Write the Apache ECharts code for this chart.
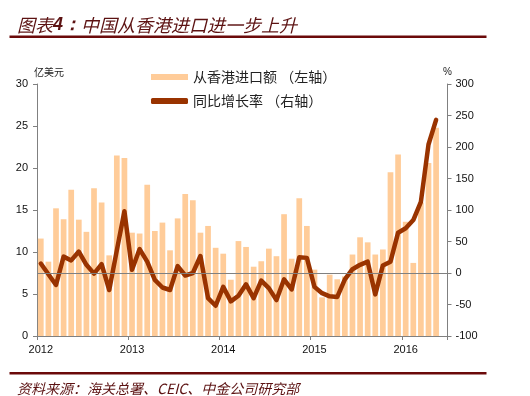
<!DOCTYPE html>
<html>
<head>
<meta charset="utf-8">
<script src="https://cdn.jsdelivr.net/npm/echarts@6/dist/echarts.min.js"></script>
<style>html,body{margin:0;padding:0;background:#fff}#c{width:530px;height:396px}</style>
</head>
<body>
<div id="c"></div>
<script>
// categories: monthly Jan 2012 - Jun 2016
const categories = [];
for (let y = 2012; y <= 2016; y++) {
  for (let m = 1; m <= 12; m++) {
    if (y === 2016 && m > 6) break;
    categories.push(y + '-' + (m < 10 ? '0' + m : m));
  }
}
const tickLabels = ['2012', '2013', '2014', '2015', '2016'];

// 从香港进口额 (亿美元)
const importValue = [
  11.6, 8.85, 15.2, 13.9, 17.4, 13.85, 12.4, 17.6, 15.9, 9.6, 21.5, 21.2,
  12.3, 12.2, 18.0, 12.5, 13.5, 10.2, 14.0, 16.9, 16.15, 12.3, 13.1, 10.5,
  9.8, 6.7, 11.3, 10.6, 8.25, 8.9, 10.4, 9.5, 14.5, 9.2, 16.4, 13.1,
  7.9, 4.6, 7.3, 6.75, 7.1, 9.7, 11.75, 11.15, 9.7, 10.3, 19.5, 21.6,
  13.6, 8.7, 15.9, 20.6, 24.8, null
];

// 同比增长率 (%)
const yoyGrowth = [
  15, -2, -19, 26, 20, 34, 13, -1, 14, -27, 36, 98,
  5, 38, 18, -11, -23, -27, 11, -4, 0, 27, -40, -52,
  -22, -45, -36, -18, -40, -12, -24, -43, -10, -26, 25, 24,
  -22, -32, -37, -38, -10, 6, 13, 18, -34, 12, 18, 64,
  71, 84, 113, 204, 243, null
];

const seriesNames = ['从香港进口额 （左轴）', '同比增长率 （右轴）'];

const chart = echarts.init(document.getElementById('c'), null, {renderer: 'canvas'});
const axisGray = '#808080';
const cjk = '"Noto Sans CJK SC", "Noto Sans", sans-serif';
const num = '"Liberation Sans", Arial, sans-serif';

chart.setOption({
  backgroundColor: '#fff',
  animation: false,
  title: [
    {
      left: 12, top: 11,
      text: '{a|图表}{b|4：}{a|中国从香港进口进一步上升}',
      textStyle: {
        fontWeight: 'normal',
        rich: {
          a: {fontFamily: cjk, fontSize: 18, fontStyle: 'italic', fontWeight: 'normal', color: '#5c1212'},
          b: {fontFamily: num, fontSize: 18, fontStyle: 'italic', fontWeight: 'bold', color: '#5c1212'}
        }
      }
    },
    {
      left: 12, top: 377,
      text: '资料来源：海关总署、CEIC、中金公司研究部',
      textStyle: {fontFamily: cjk, fontSize: 14, fontStyle: 'italic', fontWeight: 'normal', color: '#5c1212'}
    }
  ],
  graphic: [
    {type: 'rect', shape: {x: 9.5, y: 35.5, width: 477, height: 2.5}, style: {fill: '#6b0a0a'}, silent: true},
    {type: 'rect', shape: {x: 9.5, y: 372, width: 477, height: 2.5}, style: {fill: '#6b0a0a'}, silent: true}
  ],
  legend: {
    orient: 'vertical',
    left: 146, top: 65,
    itemWidth: 37, itemHeight: 6,
    itemGap: 10,
    textStyle: {fontFamily: cjk, fontSize: 14, color: '#222'},
    data: [
      {name: seriesNames[0], icon: 'rect'},
      {name: seriesNames[1], icon: 'roundRect'}
    ]
  },
  grid: {left: 37, right: 82.5, top: 84, bottom: 60, containLabel: false},
  xAxis: {
    type: 'category',
    data: categories,
    boundaryGap: true,
    axisLine: {lineStyle: {color: axisGray, width: 1}},
    axisTick: {
      show: true, length: 4, inside: false,
      interval: function (i) { return i % 12 === 0; },
      lineStyle: {color: axisGray}
    },
    axisLabel: {
      interval: function (i) { return i % 12 === 0; },
      formatter: function (v, i) { return tickLabels[Math.floor(i / 12)]; },
      fontFamily: num, fontSize: 11, color: '#111', margin: 8
    },
    splitLine: {show: false}
  },
  yAxis: [
    {
      type: 'value', min: 0, max: 30, interval: 5,
      name: '亿美元', nameLocation: 'end', nameGap: 7,
      nameTextStyle: {fontFamily: cjk, fontSize: 10, color: '#222', align: 'left', padding: [0, 0, 0, -3]},
      axisLine: {show: true, lineStyle: {color: axisGray}},
      axisTick: {show: true, length: 4, lineStyle: {color: axisGray}},
      axisLabel: {fontFamily: num, fontSize: 11, color: '#111', margin: 9},
      splitLine: {show: false}
    },
    {
      type: 'value', min: -100, max: 300, interval: 50,
      name: '%', nameLocation: 'end', nameGap: 7,
      nameTextStyle: {fontFamily: num, fontSize: 10, color: '#222'},
      axisLine: {show: true, lineStyle: {color: axisGray}},
      axisTick: {show: true, length: 4, lineStyle: {color: axisGray}},
      axisLabel: {fontFamily: num, fontSize: 11, color: '#111', margin: 8},
      splitLine: {show: false}
    }
  ],
  series: [
    {
      name: seriesNames[0],
      type: 'bar',
      yAxisIndex: 0,
      data: importValue,
      barCategoryGap: '25%',
      itemStyle: {color: '#ffcc99'}
    },
    {
      name: seriesNames[1],
      type: 'line',
      yAxisIndex: 1,
      data: yoyGrowth,
      showSymbol: false,
      symbol: 'none',
      connectNulls: false,
      itemStyle: {color: '#993300'},
      lineStyle: {color: '#993300', width: 4.5, cap: 'round', join: 'round'},
      markLine: {
        silent: true,
        symbol: 'none',
        label: {show: false},
        lineStyle: {color: axisGray, width: 1, type: 'solid'},
        data: [{yAxis: 0}]
      },
      z: 3
    }
  ]
});
</script>
</body>
</html>
